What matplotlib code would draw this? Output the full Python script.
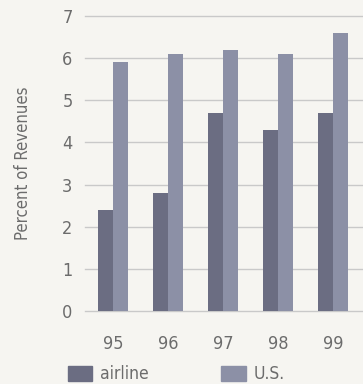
import numpy as np
import matplotlib
matplotlib.use('Agg')
import matplotlib.pyplot as plt
from matplotlib.patches import Patch

# data
years = ['95', '96', '97', '98', '99']
airline = [2.4, 2.8, 4.7, 4.3, 4.7]
us = [5.9, 6.1, 6.2, 6.1, 6.6]
yticks = [0, 1, 2, 3, 4, 5, 6, 7]

bg = '#f6f5f1'
c_airline = '#6b6d82'
c_us = '#8c90a6'
c_text = '#6c6c6c'

plt.rcParams['font.family'] = ['DejaVu Sans']
plt.rcParams['font.stretch'] = 'condensed'

fig = plt.figure(figsize=(3.63, 3.84), dpi=100, facecolor=bg)
ax = fig.add_axes([85 / 363, 1 - 311 / 384, 1 - 85 / 363, (311 - 16) / 384])
ax.set_facecolor(bg)

x = np.arange(len(years))
w = 0.27
ax.bar(x - w / 2, airline, w, color=c_airline, zorder=3)
ax.bar(x + w / 2, us, w, color=c_us, zorder=3)

ax.set_xlim(-0.51, 4.55)
ax.set_ylim(0, 7)
ax.set_yticks(yticks)
ax.set_xticks(x)
ax.set_xticklabels(years)
for y in yticks:
    ax.axhline(y, color='#c9c9c9', lw=1.0, zorder=1, clip_on=False)

for s in ax.spines.values():
    s.set_visible(False)
ax.tick_params(length=0, colors=c_text, labelsize=13)
ax.tick_params(axis='y', pad=9)
ax.tick_params(axis='x', pad=17)
ax.set_ylabel('Percent of Revenues', color=c_text, fontsize=12, labelpad=22)

handles = [Patch(color=c_airline, label='airline'), Patch(color=c_us, label='U.S.')]
fig.legend(handles=handles, loc='lower left', bbox_to_anchor=(52 / 363, -15 / 384),
           ncol=2, frameon=False, fontsize=12.5, labelcolor=c_text,
           handlelength=1.4, handleheight=0.95, handletextpad=0.45, columnspacing=4.2)

fig.savefig('out.png', dpi=100, facecolor=bg)
